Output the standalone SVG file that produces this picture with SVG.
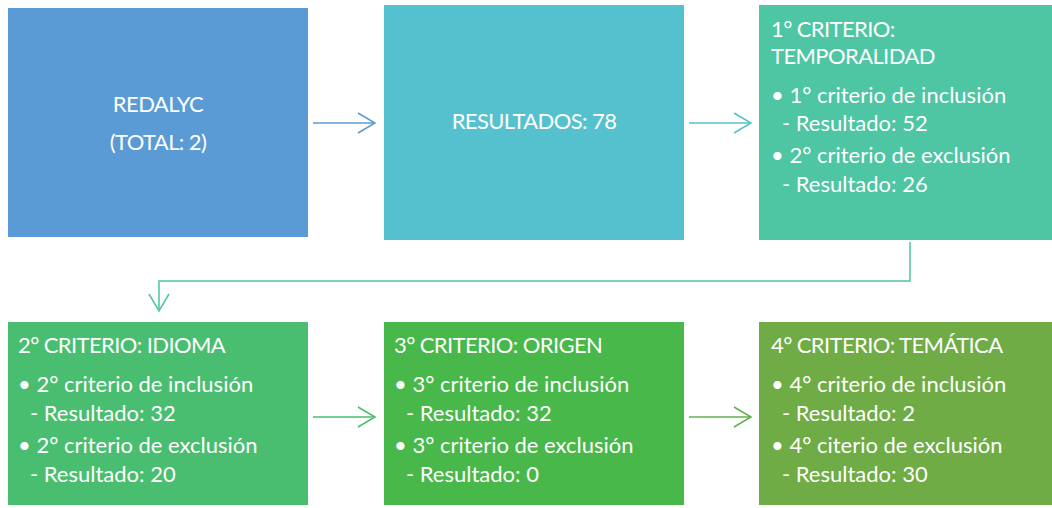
<svg xmlns="http://www.w3.org/2000/svg" width="1052" height="508" viewBox="0 0 1052 508">
<defs>
<style>
text{font-family:Lato,"Open Sans","Liberation Sans",sans-serif;font-size:22px;fill:#ffffff}
.c{text-anchor:middle}
.t{letter-spacing:-0.6px}
.ln{fill:none;stroke-width:1.5}
</style>
<marker id="ah" viewBox="0 0 20 24" markerWidth="20" markerHeight="24" refX="18" refY="12" orient="auto" markerUnits="userSpaceOnUse">
<path d="M1,2 L18,12 L1,22" fill="none" stroke="context-stroke" stroke-width="1.5"/>
</marker>
</defs>
<rect width="1052" height="508" fill="#ffffff"/>
<g id="n1">
<rect x="8" y="8" width="300" height="229" fill="#5B9BD5"/>
<text class="c t" x="158" y="112">REDALYC</text>
<text class="c t" x="158" y="150">(TOTAL: 2)</text>
</g>
<g id="n2">
<rect x="384" y="5" width="300" height="235" fill="#56C1CE"/>
<text class="c t" x="534" y="129">RESULTADOS: 78</text>
</g>
<g id="n3">
<rect x="759" y="5" width="293" height="235" fill="#4EC5A3"/>
<text class="t" x="771" y="37">1° CRITERIO:</text>
<text class="t" x="771" y="64">TEMPORALIDAD</text>
<text x="771" y="103">• 1° criterio de inclusión</text>
<text x="782" y="131">- Resultado: 52</text>
<text x="771" y="163">• 2° criterio de exclusión</text>
<text x="782" y="192">- Resultado: 26</text>
</g>
<g id="n4">
<rect x="8" y="322" width="300" height="183" fill="#4ABE70"/>
<text class="t" x="18" y="353">2° CRITERIO: IDIOMA</text>
<text x="18" y="392">• 2° criterio de inclusión</text>
<text x="30" y="421">- Resultado: 32</text>
<text x="18" y="453">• 2° criterio de exclusión</text>
<text x="30" y="482">- Resultado: 20</text>
</g>
<g id="n5">
<rect x="384" y="322" width="300" height="183" fill="#48B84A"/>
<text class="t" x="394" y="353">3° CRITERIO: ORIGEN</text>
<text x="394" y="392">• 3° criterio de inclusión</text>
<text x="406" y="421">- Resultado: 32</text>
<text x="394" y="453">• 3° criterio de exclusión</text>
<text x="406" y="482">- Resultado: 0</text>
</g>
<g id="n6">
<rect x="759" y="322" width="293" height="183" fill="#6FAC46"/>
<text class="t" x="771" y="353">4° CRITERIO: TEMÁTICA</text>
<text x="771" y="392">• 4° criterio de inclusión</text>
<text x="782" y="421">- Resultado: 2</text>
<text x="771" y="453">• 4° citerio de exclusión</text>
<text x="782" y="482">- Resultado: 30</text>
</g>
<g id="connectors">
<line class="ln" x1="313" y1="123" x2="375" y2="123" stroke="#5B9BD5" marker-end="url(#ah)"/>
<line class="ln" x1="689" y1="123" x2="751" y2="123" stroke="#56C1CE" marker-end="url(#ah)"/>
<polyline class="ln" points="910,242 910,281 159,281 159,311" stroke="#4EC5A3" marker-end="url(#ah)"/>
<line class="ln" x1="313" y1="417" x2="375" y2="417" stroke="#4ABE70" marker-end="url(#ah)"/>
<line class="ln" x1="689" y1="417" x2="751" y2="417" stroke="#5FB24A" marker-end="url(#ah)"/>
</g>
</svg>
